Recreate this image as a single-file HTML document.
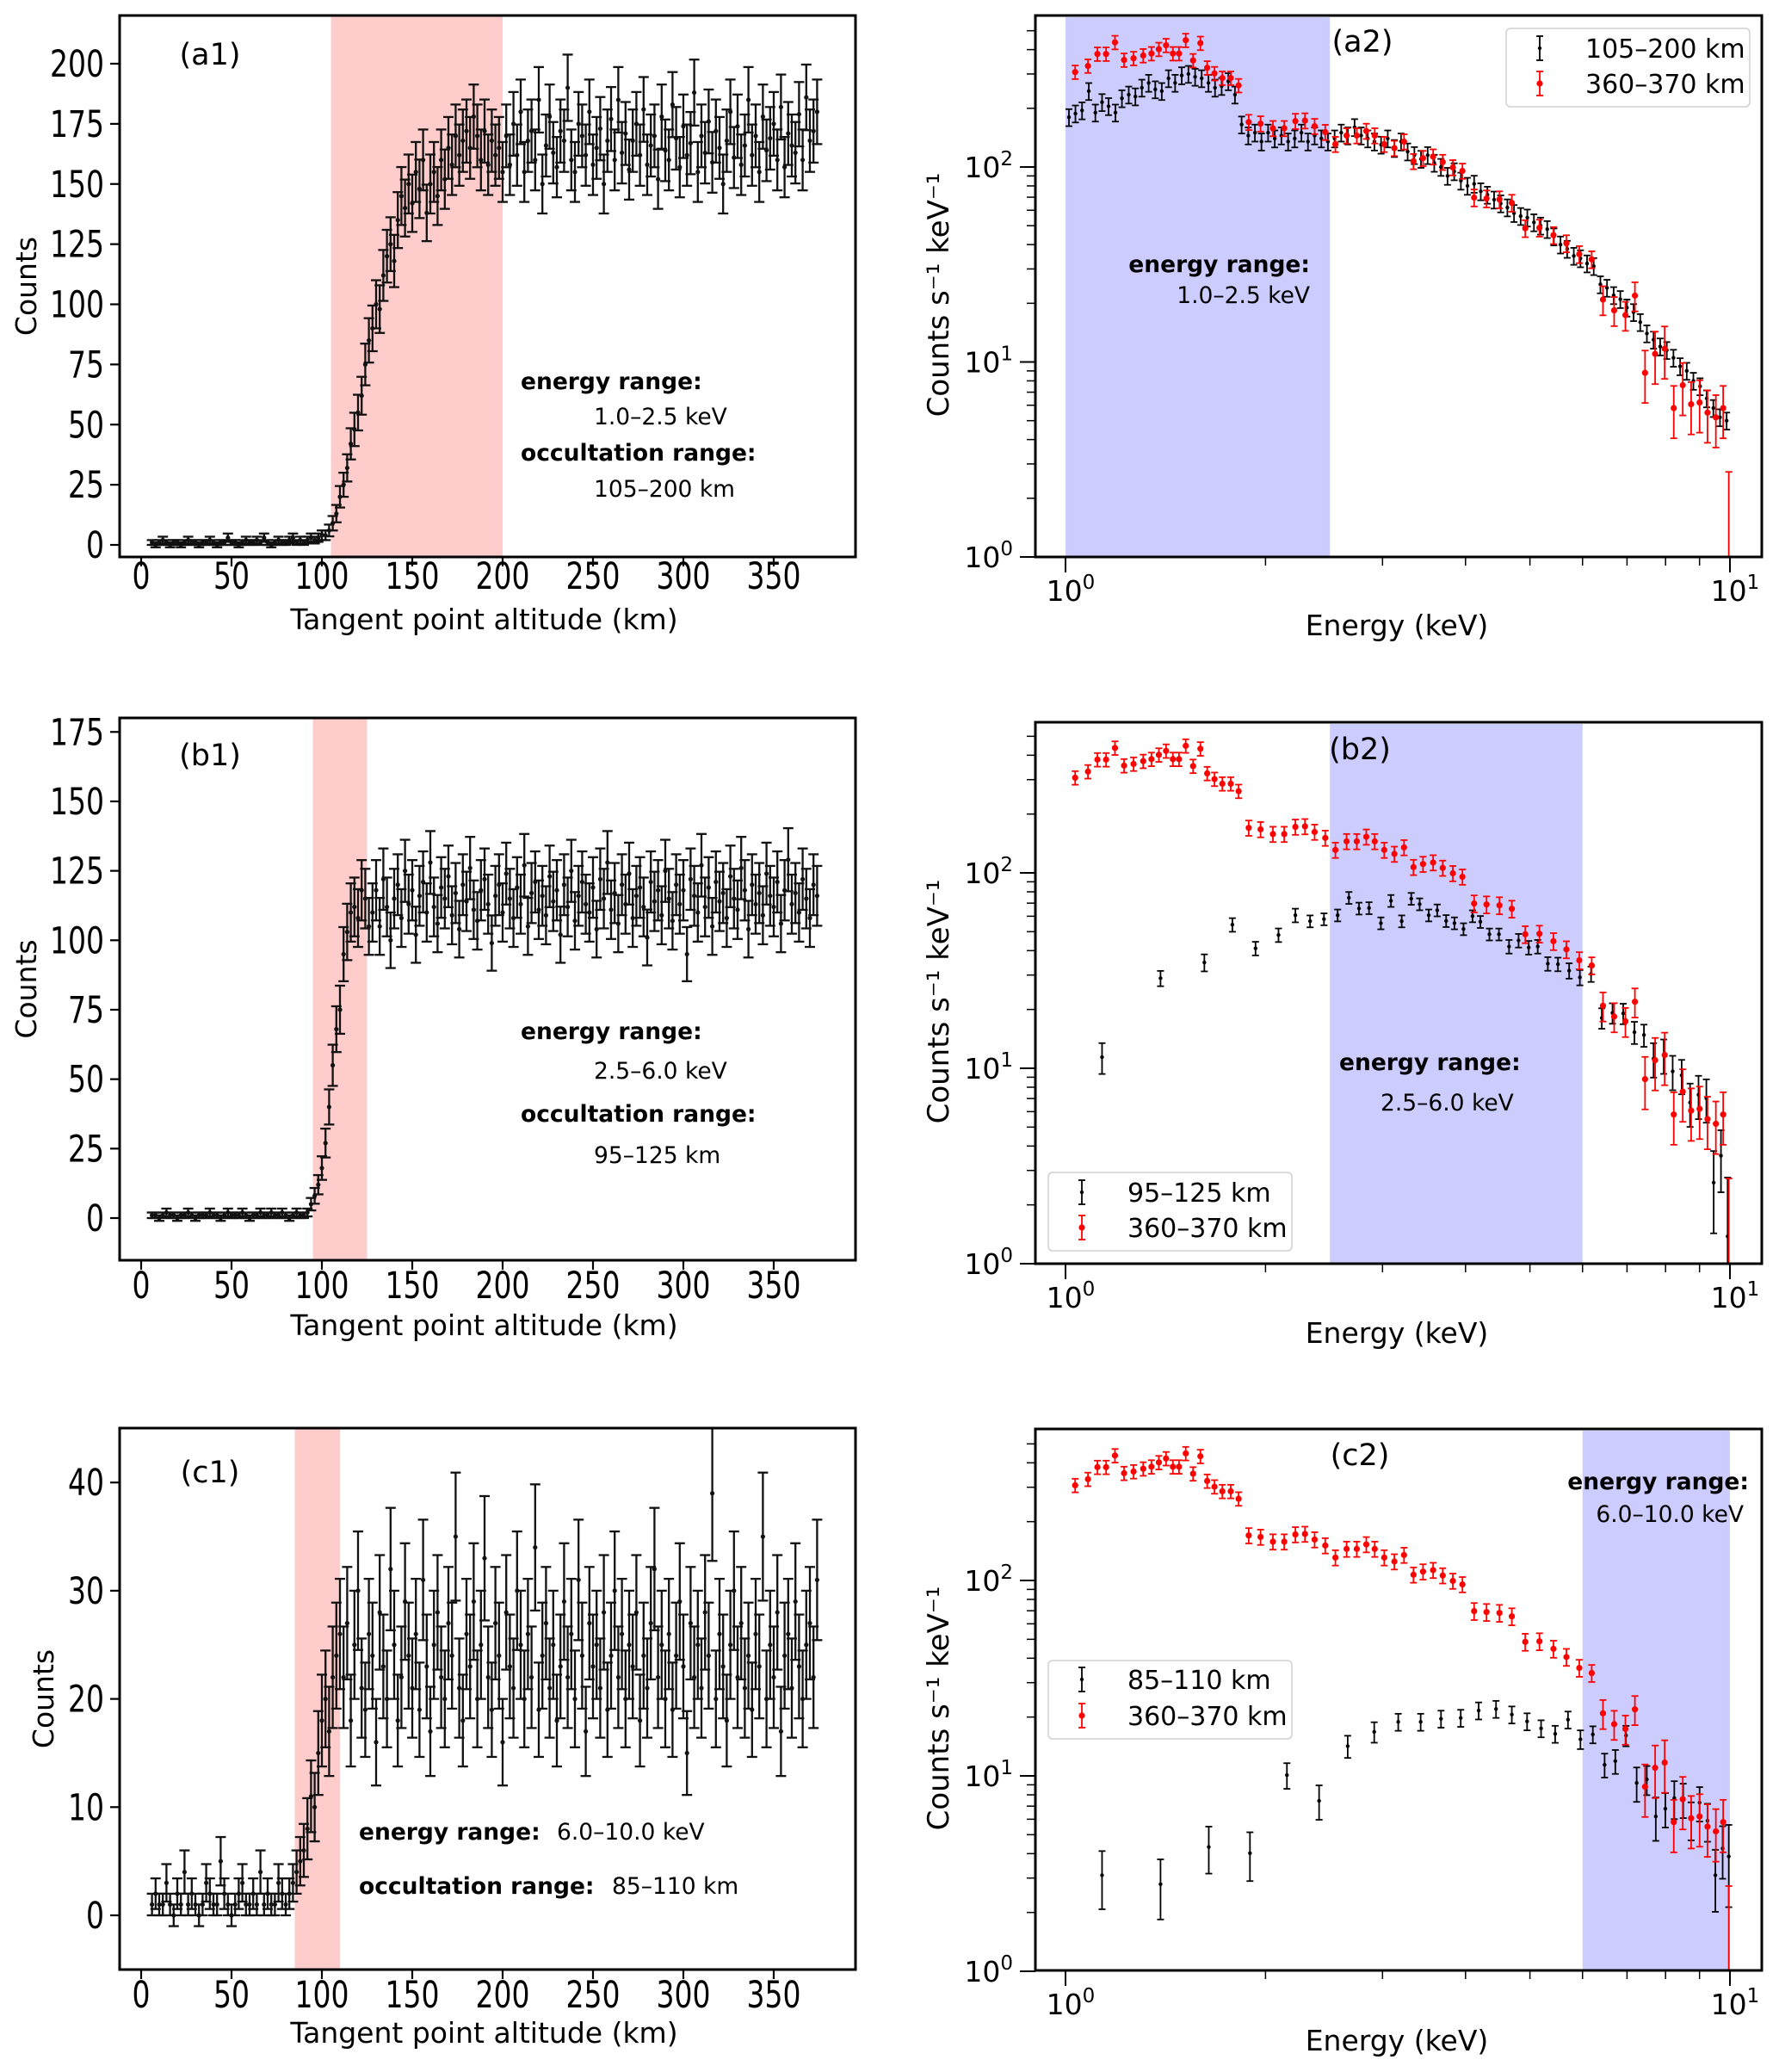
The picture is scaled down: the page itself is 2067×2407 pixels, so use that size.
<!DOCTYPE html>
<html><head><meta charset="utf-8"><title>Occultation light curves and spectra</title>
<style>
html,body{margin:0;padding:0;background:#fff;}
svg{display:block;font-family:"DejaVu Sans","Liberation Sans",sans-serif;}
</style></head>
<body>
<svg id="fig" xmlns="http://www.w3.org/2000/svg" width="2067" height="2407" viewBox="0 0 2067 2407">
<rect x="0" y="0" width="2067" height="2407" fill="#fff"/>
</svg>
<script>
// ---------- DATA ----------
const altStart = 6;
const altStep = 2;
const countsA1 = [1,0,1,2,1,0,1,1,0,1,2,1,1,0,1,1,2,1,0,1,1,3,1,1,0,1,2,1,1,2,1,3,1,0,1,2,1,1,2,3,1,2,1,2,3,2,3,4,
4,6,9,13,20,25,32,42,48,55,62,75,85,90,100,98,112,120,125,118,135,145,140,150,142,155,148,160,138,150,155,145,160,152,165,158,170,162,168,172,165,178,170,160,172,158,168,162,165,155,
170,158,175,162,180,155,168,172,160,185,150,166,178,163,157,172,168,190,160,155,175,170,162,180,158,165,173,150,168,177,160,185,163,171,156,168,175,162,181,158,166,170,152,178,164,160,183,169,157,174,162,167,188,155,170,163,176,159,172,165,150,168,180,161,174,158,166,185,162,170,155,178,164,169,175,160,182,157,171,166,163,179,160,186,168,172,180];
const countsB1 = [1,1,0,1,2,1,1,0,1,1,2,1,0,1,1,1,2,1,1,0,1,2,1,1,1,2,1,0,1,1,2,1,1,2,1,1,2,1,0,1,2,1,1,2,
5,8,12,18,27,40,55,68,75,95,103,110,112,108,118,115,105,
110,118,105,122,112,100,115,120,108,125,113,118,102,116,121,110,128,112,106,119,
115,123,109,117,104,120,114,126,111,107,118,122,113,99,116,120,110,124,115,108,
119,113,127,105,117,121,111,116,109,123,114,118,102,120,112,125,107,116,121,113,
110,119,104,122,115,128,111,117,106,120,113,124,108,116,119,112,101,121,114,118,
109,125,115,107,120,113,118,95,122,116,110,127,112,119,105,121,114,117,108,123,
115,111,126,118,104,120,113,117,109,124,116,112,121,106,118,129,113,117,110,122,
115,108,120,116];
const countsC1 = [1,2,1,1,3,1,0,2,1,4,1,2,1,0,1,3,2,1,1,5,2,1,0,1,2,3,1,1,2,1,4,1,2,1,1,3,2,1,2,3,
4,5,6,8,11,10,15,18,20,17,22,24,26,
22,27,18,25,30,21,19,26,24,16,28,23,20,32,25,18,22,29,24,21,
26,19,31,23,17,25,28,22,20,27,24,35,21,18,26,23,29,20,25,33,
22,19,27,24,16,28,23,21,30,25,20,26,22,34,19,24,27,21,25,18,
23,29,22,26,20,31,24,17,27,23,25,21,28,19,24,30,22,26,20,25,
23,28,18,24,21,27,32,22,25,20,26,19,24,29,23,15,27,22,25,21,
28,24,39,20,26,23,18,25,30,22,27,21,24,19,26,23,35,20,25,22,
28,17,24,26,21,29,23,20,25,27,22,31];

const redE = [1.034,1.081,1.117,1.151,1.187,1.225,1.266,1.309,1.347,1.382,1.417,1.451,1.482,1.517,1.556,1.596,1.634,1.676,1.722,1.773,1.822,1.887,1.966,2.052,2.134,2.218,2.293,2.371,2.460,2.548,2.649,2.744,2.836,2.920,3.018,3.126,3.232,3.340,3.452,3.575,3.696,3.828,3.957,4.121,4.302,4.499,4.696,4.920,5.168,5.425,5.674,5.933,6.194,6.440,6.695,6.961,7.194,7.451,7.716,7.976,8.231,8.491,8.742,9.002,9.252,9.524,9.768,9.96];
const redV = [307,330,380,380,436,354,361,373,382,402,421,382,382,447,352,432,323,302,286,286,262,170,167,158,158,172,173,162,151,131,145,145,153,145,131,125,135,107,111,113,106,99.5,95.5,69.7,68.9,68.2,65.5,48.5,48.8,44.7,40.6,35.7,33.6,20.9,18.4,17.4,21.9,8.8,11.0,11.7,5.8,7.6,6.07,6.2,5.5,5.2,5.8,1.3];
const redErr = [0.08,0.08,0.08,0.08,0.08,0.08,0.08,0.08,0.08,0.08,0.08,0.08,0.08,0.08,0.08,0.08,0.08,0.08,0.08,0.08,0.08,
0.09,0.09,0.09,0.09,0.09,0.09,0.09,0.09,0.09,0.09,0.09,0.09,0.09,0.09,0.09,0.09,0.09,0.09,0.09,0.09,0.09,0.09,
0.1,0.1,0.1,0.1,0.1,0.1,0.1,0.1,0.1,0.1,0.17,0.17,0.17,0.17,0.3,0.3,0.3,0.3,0.3,0.3,0.3,0.3,0.3,0.3,1.1];

const blkAE = [1.012,1.035,1.059,1.084,1.109,1.135,1.161,1.189,1.216,1.245,1.274,1.303,1.334,1.365,1.396,1.429,1.462,1.496,1.531,1.567,1.603,1.641,1.679,1.718,1.758,1.799,1.841,1.884,1.928,1.972,2.018,2.065,2.113,2.163,2.213,2.265,2.317,2.371,2.427,2.483,2.541,2.600,2.661,2.723,2.786,2.851,2.917,2.985,3.055,3.126,3.199,3.273,3.350,3.428,3.508,3.589,3.673,3.758,3.846,3.936,4.027,4.121,4.217,4.315,4.416,4.519,4.624,4.732,4.842,4.955,5.070,5.188,5.309,5.433,5.559,5.689,5.821,5.957,6.095,6.237,6.383,6.531,6.683,6.839,6.998,7.161,7.328,7.499,7.674,7.852,8.035,8.222,8.414,8.610,8.810,9.016,9.226,9.441,9.661,9.886];
const blkAV = [180,188,195,245,190,215,205,190,225,235,230,255,270,250,245,285,270,295,300,290,285,270,255,260,275,235,165,145,150,135,150,140,145,135,140,150,135,145,140,135,140,150,145,160,145,140,135,130,140,125,135,120,115,110,115,105,100,90,95,85,80,82,75,72,68,65,62,58,56,55,52,50,48,44,40,38,35,34,32,31,25,24,22,21,19,18,16,14,13,12,11.5,10.5,9.5,9,8,7.5,6.5,5.8,5.2,5.0];
const blkAErr = 0.1;

const blkBE = [1.135,1.390,1.618,1.783,1.932,2.092,2.218,2.334,2.449,2.568,2.670,2.765,2.863,2.983,3.089,3.206,3.314,3.412,3.521,3.626,3.740,3.849,3.972,4.098,4.211,4.345,4.491,4.651,4.807,4.979,5.137,5.320,5.510,5.728,5.945,6.180,6.414,6.656,6.908,7.182,7.423,7.674,7.949,8.200,8.459,8.709,8.968,9.215,9.452,9.694,9.92];
const blkBV = [11.4,28.9,34.8,54.3,41.1,48.1,60.7,56.6,58.0,60.7,74.6,65.8,66.1,55.3,72.0,56.6,73.8,69.2,60.7,64.4,56.8,55.3,51.6,60.1,56.2,48.5,48.5,42.0,45.1,41.5,42.0,34.3,34.1,31.6,29.2,30.4,18.1,19.2,19.1,15.3,14.8,11.2,11.7,9.65,9.2,6.68,7.32,7.02,2.6,3.57,1.38];
const blkBErr = [0.18,0.09,0.1,0.08,0.08,0.08,0.08,0.07,0.07,0.07,0.07,0.07,0.07,0.07,0.07,0.07,0.07,0.07,0.07,0.07,0.07,0.07,0.07,0.07,0.07,0.07,0.07,0.08,0.08,0.08,0.08,0.08,0.08,0.09,0.09,0.09,0.12,0.12,0.12,0.13,0.13,0.2,0.2,0.2,0.2,0.25,0.25,0.25,0.45,0.35,1.0];

const blkCE = [1.135,1.39,1.643,1.895,2.154,2.408,2.659,2.915,3.168,3.424,3.674,3.934,4.186,4.446,4.696,4.951,5.197,5.457,5.705,5.957,6.218,6.477,6.722,6.975,7.238,7.497,7.734,7.994,8.246,8.506,8.742,9.002,9.252,9.507,9.75,9.96];
const blkCV = [3.10,2.79,4.33,4.02,10.1,7.45,14.2,16.8,18.9,18.9,19.6,19.8,21.6,22.0,20.6,19.0,17.5,16.4,19.4,15.4,16.3,11.4,11.9,16.1,9.2,9.6,6.2,6.8,7.7,7.6,6.0,7.3,5.9,3.1,4.25,3.87];
const blkCErr = [0.33,0.34,0.27,0.28,0.15,0.2,0.13,0.12,0.1,0.1,0.1,0.1,0.1,0.1,0.1,0.1,0.1,0.1,0.1,0.11,0.1,0.14,0.14,0.12,0.2,0.17,0.25,0.2,0.22,0.2,0.22,0.2,0.22,0.35,0.3,0.45];

const linTicksA = [0,25,50,75,100,125,150,175,200];
const linTicksB = [0,25,50,75,100,125,150,175];
const linTicksC = [0,10,20,30,40];
const altTicks = [0,50,100,150,200,250,300,350];

// ---------- DRAWING ----------
const NS = 'http://www.w3.org/2000/svg';
const svg = document.getElementById('fig');
function mk(tag, attrs, name, parent) {
  const el = document.createElementNS(NS, tag);
  for (const k in attrs) el.setAttribute(k, attrs[k]);
  
  
  (parent || svg).appendChild(el);
  return el;
}
function txt(x, y, s, size, anchor, name, opt) {
  opt = opt || {};
  let tr = 'translate(' + x + ',' + y + ')';
  if (opt.rot) tr += ' rotate(-90)';
  if (opt.sy) tr += ' scale(1,' + opt.sy + ')';
  const t = mk('text', {transform: tr, 'font-size': size, 'text-anchor': anchor || 'start',
    'font-weight': opt.bold ? 'bold' : 'normal', fill: '#000'}, name, opt.parent);
  t.textContent = s;
  return t;
}
function pow10Label(x, y, exp, anchor, name) {
  const t = mk('text', {x: x, y: y, 'font-size': 33, 'text-anchor': anchor, fill: '#000'}, name);
  const a = document.createElementNS(NS, 'tspan');
  a.textContent = '10';
  t.appendChild(a);
  const b = document.createElementNS(NS, 'tspan');
  b.setAttribute('dy', '-14');
  b.setAttribute('font-size', '23');
  b.textContent = String(exp);
  t.appendChild(b);
  return t;
}
let clipId = 0;
function clipFor(L, T, R, B) {
  clipId++;
  const cp = mk('clipPath', {id: 'clip' + clipId}, 'plot-clip');
  mk('rect', {x: L, y: T, width: R - L, height: B - T}, 'clip-rect', cp);
  return 'url(#clip' + clipId + ')';
}
function errbar(g, x, yc, ylo, yhi, col, cap, lw, r, name) {
  mk('line', {x1: x, x2: x, y1: ylo, y2: yhi, stroke: col, 'stroke-width': lw}, name + '-bar', g);
  mk('line', {x1: x - cap, x2: x + cap, y1: ylo, y2: ylo, stroke: col, 'stroke-width': lw}, name + '-cap', g);
  mk('line', {x1: x - cap, x2: x + cap, y1: yhi, y2: yhi, stroke: col, 'stroke-width': lw}, name + '-cap', g);
  if (r > 0) mk('circle', {cx: x, cy: yc, r: r, fill: col}, name + '-point', g);
}
function frame(L, T, R, B, name) {
  mk('rect', {x: L, y: T, width: R - L, height: B - T, fill: 'none', stroke: '#000', 'stroke-width': 3}, name);
}

function lightPanel(cfg) {
  const {L, T, R, B, y0, ppu, counts, ticks, span, tag, tickY, titleY, ylabX, key} = cfg;
  const xs = v => 164 + 2.1 * v;
  const ys = v => y0 - ppu * v;
  mk('rect', {x: xs(span[0]), y: T, width: xs(span[1]) - xs(span[0]), height: B - T, fill: '#ffcccc'}, key + '-occultation-band');
  const g = mk('g', {'clip-path': clipFor(L, T, R, B)}, key + '-series');
  for (let i = 0; i < counts.length; i++) {
    const a = altStart + altStep * i;
    const c = counts[i];
    const e = Math.max(1, Math.sqrt(c));
    errbar(g, xs(a), ys(c), ys(c - e), ys(c + e), '#111', 6, 2.3, 2.6, key + '-bin');
  }
  frame(L, T, R, B, key + '-axes-frame');
  altTicks.forEach(t => {
    mk('line', {x1: xs(t), x2: xs(t), y1: B, y2: B + 11, stroke: '#000', 'stroke-width': 2.2}, key + '-x-tick');
    txt(xs(t), tickY, String(t), 33, 'middle', key + '-x-tick-label', {sy: 1.3});
  });
  ticks.forEach(t => {
    mk('line', {x1: L - 11, x2: L, y1: ys(t), y2: ys(t), stroke: '#000', 'stroke-width': 2.2}, key + '-y-tick');
    txt(121, ys(t) + 15, String(t), 33, 'end', key + '-y-tick-label', {sy: 1.3});
  });
  txt((L + R) / 2 - 4, titleY, 'Tangent point altitude (km)', 33, 'middle', key + '-x-axis-title');
  txt(ylabX, (T + B) / 2, 'Counts', 33, 'middle', key + '-y-axis-title', {rot: true});
  txt(244, cfg.tagY, tag, 35, 'middle', key + '-panel-label');
}

function specPanel(cfg) {
  const {L, T, R, B, ybot, dec, span, black, key} = cfg;
  const xs = E => 1238 + 772 * Math.log10(E);
  const ys = V => ybot - dec * Math.log10(V);
  mk('rect', {x: xs(span[0]), y: T + 2, width: xs(span[1]) - xs(span[0]), height: B - T - 2, fill: '#ccccff'}, key + '-energy-band');
  const g = mk('g', {'clip-path': clipFor(L, T, R, B)}, key + '-series');
  for (let i = 0; i < black.E.length; i++) {
    const v = black.V[i];
    const f = Array.isArray(black.err) ? black.err[i] : black.err;
    const lo = v * (1 - f) > 0 ? ys(v * (1 - f)) : B + 10;
    errbar(g, xs(black.E[i]), ys(v), lo, ys(v * (1 + f)), '#000', 4, 1.8, 2.2, key + '-black-point');
  }
  for (let i = 0; i < redE.length; i++) {
    const v = redV[i];
    const f = redErr[i];
    const lo = v * (1 - f) > 0 ? ys(v * (1 - f)) : B + 10;
    errbar(g, xs(redE[i]), ys(v), lo, ys(v * (1 + f)), '#ff0000', 4, 1.8, f > 1 ? 0 : 3.6, key + '-red-point');
  }
  frame(L, T, R, B, key + '-axes-frame');
  [[1, 0], [10, 1]].forEach(([E, ex]) => {
    mk('line', {x1: xs(E), x2: xs(E), y1: B, y2: B + 18, stroke: '#000', 'stroke-width': 2}, key + '-x-tick');
    pow10Label(xs(E) + 6, B + 51, ex, 'middle', key + '-x-tick-label');
  });
  [2, 3, 4, 5, 6, 7, 8, 9].forEach(m => {
    mk('line', {x1: xs(m), x2: xs(m), y1: B, y2: B + 10, stroke: '#000', 'stroke-width': 1.5}, key + '-x-minor-tick');
  });
  [0, 1, 2].forEach(ex => {
    mk('line', {x1: L - 18, x2: L, y1: ys(Math.pow(10, ex)), y2: ys(Math.pow(10, ex)), stroke: '#000', 'stroke-width': 2}, key + '-y-tick');
    pow10Label(1177, ys(Math.pow(10, ex)) + 12, ex, 'end', key + '-y-tick-label');
  });
  [1, 10, 100].forEach(d => {
    [2, 3, 4, 5, 6, 7, 8, 9].forEach(m => {
      const y = ys(d * m);
      if (y > T + 1) mk('line', {x1: L - 10, x2: L, y1: y, y2: y, stroke: '#000', 'stroke-width': 1.5}, key + '-y-minor-tick');
    });
  });
  txt((L + R) / 2 - 2, cfg.titleY, 'Energy (keV)', 33, 'middle', key + '-x-axis-title');
  txt(1102, (T + B) / 2 + 10, 'Counts s\u207B\u00B9 keV\u207B\u00B9', 34, 'middle', key + '-y-axis-title', {rot: true});
  txt(cfg.tagX, cfg.tagY, cfg.tag, 35, 'middle', key + '-panel-label');
  const lg = cfg.leg;
  mk('rect', {x: lg.x, y: lg.y, width: lg.w, height: lg.h, rx: 5, fill: '#fff', 'fill-opacity': 0.8, stroke: '#d0d0d0', 'stroke-width': 1.5}, key + '-legend-box');
  errbar(svg, lg.mx, lg.y1, lg.y1 + 14, lg.y1 - 14, '#000', 4, 1.8, 2.2, key + '-legend-black-marker');
  errbar(svg, lg.mx, lg.y2, lg.y2 + 14, lg.y2 - 14, '#ff0000', 4, 1.8, 3.6, key + '-legend-red-marker');
  txt(lg.tx, lg.y1 + 11, lg.label, 30, 'start', key + '-legend-black-label');
  txt(lg.tx, lg.y2 + 11, '360\u2013370 km', 30, 'start', key + '-legend-red-label');
}

lightPanel({L: 139, T: 18, R: 994, B: 647, y0: 633, ppu: 2.795, counts: countsA1, ticks: linTicksA, span: [105, 200],
  tag: '(a1)', tagY: 75, tickY: 684, titleY: 731, ylabX: 42, key: 'a1'});
txt(605, 452, 'energy range:', 26.5, 'start', 'a1-energy-range-label', {bold: true});
txt(690, 493, '1.0\u20132.5 keV', 26.5, 'start', 'a1-energy-range-value');
txt(605, 535, 'occultation range:', 26.5, 'start', 'a1-occultation-range-label', {bold: true});
txt(690, 577, '105\u2013200 km', 26.5, 'start', 'a1-occultation-range-value');

specPanel({L: 1203, T: 18, R: 2047, B: 647, ybot: 647, dec: 226.5, span: [1.0, 2.5],
  black: {E: blkAE, V: blkAV, err: blkAErr}, key: 'a2', tag: '(a2)', tagX: 1583, tagY: 60, titleY: 738,
  leg: {x: 1750, y: 33, w: 283, h: 91, mx: 1789, tx: 1842, y1: 56, y2: 97, label: '105\u2013200 km'}});
txt(1522, 316, 'energy range:', 26.5, 'end', 'a2-energy-range-label', {bold: true});
txt(1522, 352, '1.0\u20132.5 keV', 26.5, 'end', 'a2-energy-range-value');

lightPanel({L: 139, T: 834, R: 994, B: 1464, y0: 1415, ppu: 3.227, counts: countsB1, ticks: linTicksB, span: [95, 125],
  tag: '(b1)', tagY: 889, tickY: 1508, titleY: 1551, ylabX: 42, key: 'b1'});
txt(605, 1207, 'energy range:', 26.5, 'start', 'b1-energy-range-label', {bold: true});
txt(690, 1253, '2.5\u20136.0 keV', 26.5, 'start', 'b1-energy-range-value');
txt(605, 1303, 'occultation range:', 26.5, 'start', 'b1-occultation-range-label', {bold: true});
txt(690, 1351, '95\u2013125 km', 26.5, 'start', 'b1-occultation-range-value');

specPanel({L: 1203, T: 839, R: 2047, B: 1468, ybot: 1468, dec: 227, span: [2.5, 6.0],
  black: {E: blkBE, V: blkBV, err: blkBErr}, key: 'b2', tag: '(b2)', tagX: 1580, tagY: 882, titleY: 1560,
  leg: {x: 1218, y: 1362, w: 283, h: 91, mx: 1257, tx: 1310, y1: 1385, y2: 1426, label: '95\u2013125 km'}});
txt(1556, 1243, 'energy range:', 26.5, 'start', 'b2-energy-range-label', {bold: true});
txt(1604, 1290, '2.5\u20136.0 keV', 26.5, 'start', 'b2-energy-range-value');

lightPanel({L: 139, T: 1659, R: 994, B: 2288, y0: 2225, ppu: 12.57, counts: countsC1, ticks: linTicksC, span: [85, 110],
  tag: '(c1)', tagY: 1722, tickY: 2332, titleY: 2373, ylabX: 62, key: 'c1'});
txt(417, 2137, 'energy range:', 26.5, 'start', 'c1-energy-range-label', {bold: true});
txt(647, 2137, '6.0\u201310.0 keV', 26.5, 'start', 'c1-energy-range-value');
txt(417, 2200, 'occultation range:', 26.5, 'start', 'c1-occultation-range-label', {bold: true});
txt(711, 2200, '85\u2013110 km', 26.5, 'start', 'c1-occultation-range-value');

specPanel({L: 1203, T: 1660, R: 2047, B: 2289, ybot: 2290, dec: 227, span: [6.0, 10.0],
  black: {E: blkCE, V: blkCV, err: blkCErr}, key: 'c2', tag: '(c2)', tagX: 1580, tagY: 1702, titleY: 2382,
  leg: {x: 1218, y: 1929, w: 283, h: 91, mx: 1257, tx: 1310, y1: 1951, y2: 1993, label: '85\u2013110 km'}});
txt(2032, 1730, 'energy range:', 26.5, 'end', 'c2-energy-range-label', {bold: true});
txt(2026, 1768, '6.0\u201310.0 keV', 26.5, 'end', 'c2-energy-range-value');
</script>
</body></html>
